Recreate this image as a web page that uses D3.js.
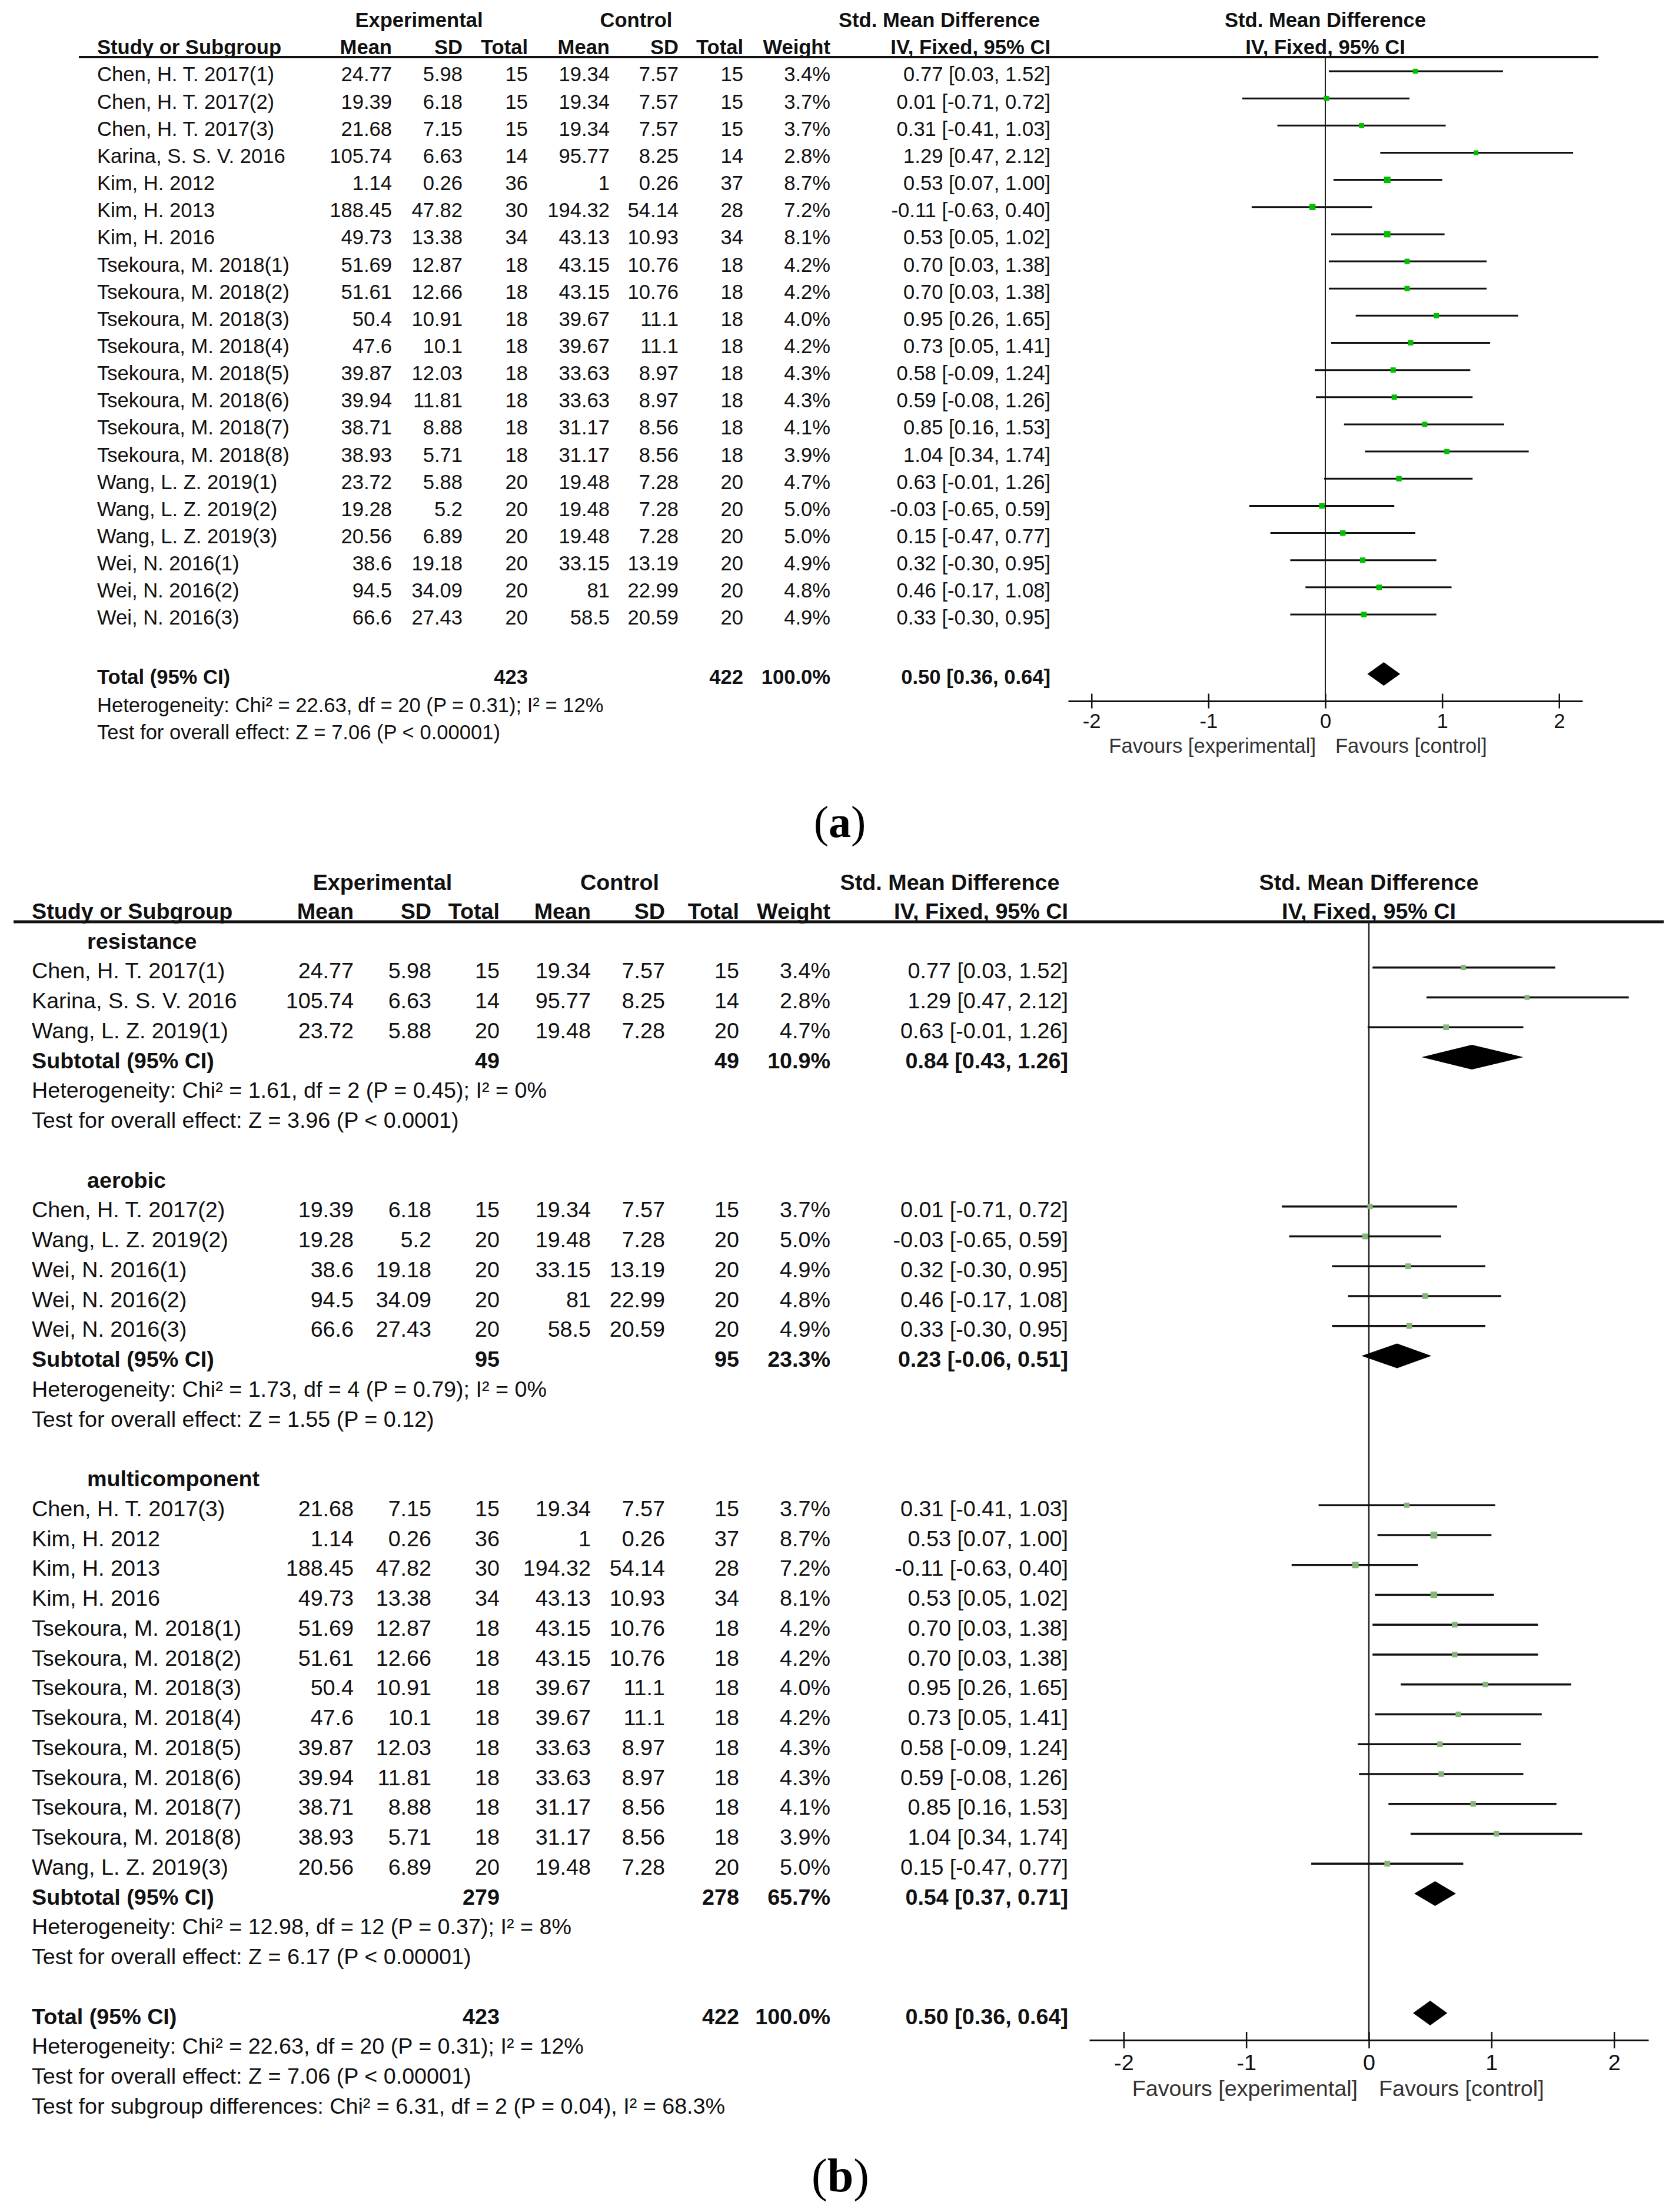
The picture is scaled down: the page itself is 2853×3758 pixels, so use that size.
<!DOCTYPE html>
<html><head><meta charset="utf-8">
<script src="https://cdn.jsdelivr.net/npm/d3@7"></script>
<style>
body{margin:0;background:#fff}
svg text{font-family:"Liberation Sans",Arial,sans-serif;fill:#111}
</style>
</head><body>
<svg id="c" width="2853" height="3758"></svg>
<script>
// ---------- DATA ----------
const studyNames = ["Chen, H. T. 2017(1)","Chen, H. T. 2017(2)","Chen, H. T. 2017(3)","Karina, S. S. V. 2016","Kim, H. 2012","Kim, H. 2013","Kim, H. 2016","Tsekoura, M. 2018(1)","Tsekoura, M. 2018(2)","Tsekoura, M. 2018(3)","Tsekoura, M. 2018(4)","Tsekoura, M. 2018(5)","Tsekoura, M. 2018(6)","Tsekoura, M. 2018(7)","Tsekoura, M. 2018(8)","Wang, L. Z. 2019(1)","Wang, L. Z. 2019(2)","Wang, L. Z. 2019(3)","Wei, N. 2016(1)","Wei, N. 2016(2)","Wei, N. 2016(3)"];
const expMean  = [24.77,19.39,21.68,105.74,1.14,188.45,49.73,51.69,51.61,50.4,47.6,39.87,39.94,38.71,38.93,23.72,19.28,20.56,38.6,94.5,66.6];
const expSD    = [5.98,6.18,7.15,6.63,0.26,47.82,13.38,12.87,12.66,10.91,10.1,12.03,11.81,8.88,5.71,5.88,5.2,6.89,19.18,34.09,27.43];
const expN     = [15,15,15,14,36,30,34,18,18,18,18,18,18,18,18,20,20,20,20,20,20];
const ctrlMean = [19.34,19.34,19.34,95.77,1,194.32,43.13,43.15,43.15,39.67,39.67,33.63,33.63,31.17,31.17,19.48,19.48,19.48,33.15,81,58.5];
const ctrlSD   = [7.57,7.57,7.57,8.25,0.26,54.14,10.93,10.76,10.76,11.1,11.1,8.97,8.97,8.56,8.56,7.28,7.28,7.28,13.19,22.99,20.59];
const ctrlN    = [15,15,15,14,37,28,34,18,18,18,18,18,18,18,18,20,20,20,20,20,20];
const weights  = [3.4,3.7,3.7,2.8,8.7,7.2,8.1,4.2,4.2,4.0,4.2,4.3,4.3,4.1,3.9,4.7,5.0,5.0,4.9,4.8,4.9];
const smd      = [0.77,0.01,0.31,1.29,0.53,-0.11,0.53,0.70,0.70,0.95,0.73,0.58,0.59,0.85,1.04,0.63,-0.03,0.15,0.32,0.46,0.33];
const ciLow    = [0.03,-0.71,-0.41,0.47,0.07,-0.63,0.05,0.03,0.03,0.26,0.05,-0.09,-0.08,0.16,0.34,-0.01,-0.65,-0.47,-0.30,-0.17,-0.30];
const ciHigh   = [1.52,0.72,1.03,2.12,1.00,0.40,1.02,1.38,1.38,1.65,1.41,1.24,1.26,1.53,1.74,1.26,0.59,0.77,0.95,1.08,0.95];

const groupNames   = ["resistance","aerobic","multicomponent"];
const groupStudies = [[0,3,15],[1,16,18,19,20],[2,4,5,6,7,8,9,10,11,12,13,14,17]];
const subExpN   = [49,95,279];
const subCtrlN  = [49,95,278];
const subWeight = [10.9,23.3,65.7];
const subSmd    = [0.84,0.23,0.54];
const subLow    = [0.43,-0.06,0.37];
const subHigh   = [1.26,0.51,0.71];
const subHet    = ["Heterogeneity: Chi\u00b2 = 1.61, df = 2 (P = 0.45); I\u00b2 = 0%","Heterogeneity: Chi\u00b2 = 1.73, df = 4 (P = 0.79); I\u00b2 = 0%","Heterogeneity: Chi\u00b2 = 12.98, df = 12 (P = 0.37); I\u00b2 = 8%"];
const subTest   = ["Test for overall effect: Z = 3.96 (P < 0.0001)","Test for overall effect: Z = 1.55 (P = 0.12)","Test for overall effect: Z = 6.17 (P < 0.00001)"];

const totalExpN = 423, totalCtrlN = 422, totalWeight = 100.0;
const totalSmd = 0.50, totalLow = 0.36, totalHigh = 0.64;
const totalHet  = "Heterogeneity: Chi\u00b2 = 22.63, df = 20 (P = 0.31); I\u00b2 = 12%";
const totalTest = "Test for overall effect: Z = 7.06 (P < 0.00001)";
const subgroupDiff = "Test for subgroup differences: Chi\u00b2 = 6.31, df = 2 (P = 0.04), I\u00b2 = 68.3%";

const tickValues = [-2,-1,0,1,2];
const colHeads = ["Mean","SD","Total","Mean","SD","Total","Weight","IV, Fixed, 95% CI"];

// ---------- LAYOUT ----------
const A = {fs:34.6, nameX:165, cols:[666,786,897,1036,1153,1263,1411,1785],
  expHeadX:712, ctrlHeadX:1081, smdHeadX:1596, head1Y:34, head2Y:80,
  headLine:[134,2716,97], lineW:4, domain:[-2.2,2.2], range:[1815,2689],
  rowY:i=>121+46.15*i, textOff:5, axisY:1191, tick:12.5, tickLabelY:1225, favY:1267,
  favGapL:16, favGapR:17, sqBase:4, sq:2.4, sqColor:"#00c000", ciW:3, diaH:20, zeroW:2};
const B = {fs:37.7, nameX:54, groupX:148, cols:[601,733,849,1004,1130,1256,1411,1815],
  expHeadX:650, ctrlHeadX:1053, smdHeadX:1614, head1Y:1498, head2Y:1547,
  headLine:[23,2827,1566], lineW:5, domain:[-2.28,2.28], range:[1851,2801],
  rowY:k=>1593+50.75*k, textOff:5, axisY:3466, tick:14, tickLabelY:3503, favY:3547,
  favGapL:19, favGapR:17, sqBase:4, sq:2.6, sqColor:"#86b57a", ciW:3.5, diaH:21, zeroW:2.5};

const svg = d3.select("#c");
const fmtCI = (m,lo,hi) => `${m.toFixed(2)} [${lo.toFixed(2)}, ${hi.toFixed(2)}]`;

function drawPanel(P, rows){
  const g = svg.append("g");
  const x = d3.scaleLinear().domain(P.domain).range(P.range);
  const T = (tx, ty, s, o={}) => g.append("text").attr("x",tx).attr("y",ty).attr("dy","0.36em")
      .attr("font-size",P.fs).attr("font-weight",o.bold?"bold":null)
      .attr("text-anchor",o.anchor||"start").text(s);
  // headers
  T(P.expHeadX,P.head1Y,"Experimental",{bold:1,anchor:"middle"});
  T(P.ctrlHeadX,P.head1Y,"Control",{bold:1,anchor:"middle"});
  T(P.smdHeadX,P.head1Y,"Std. Mean Difference",{bold:1,anchor:"middle"});
  T(x(0),P.head1Y,"Std. Mean Difference",{bold:1,anchor:"middle"});
  T(P.nameX,P.head2Y,"Study or Subgroup",{bold:1});
  colHeads.forEach((h,k)=>T(P.cols[k],P.head2Y,h,{bold:1,anchor:"end"}));
  T(x(0),P.head2Y,"IV, Fixed, 95% CI",{bold:1,anchor:"middle"});
  g.append("line").attr("x1",P.headLine[0]).attr("x2",P.headLine[1])
   .attr("y1",P.headLine[2]).attr("y2",P.headLine[2]).attr("stroke","#111").attr("stroke-width",P.lineW);
  // zero line
  g.append("line").attr("x1",x(0)).attr("x2",x(0)).attr("y1",P.headLine[2]).attr("y2",P.axisY)
   .attr("stroke","#222").attr("stroke-width",P.zeroW);
  // axis
  const axis = d3.axisBottom(x).tickValues(tickValues).tickSize(P.tick).tickSizeOuter(0).tickFormat(d=>String(d));
  const ag = g.append("g").attr("transform",`translate(0,${P.axisY})`).call(axis)
    .attr("font-family",null).attr("font-size",P.fs).attr("color","#111");
  ag.select(".domain").attr("stroke-width",3);
  ag.selectAll(".tick line").attr("y1",-P.tick).attr("y2",P.tick).attr("stroke-width",2.5);
  ag.selectAll(".tick text").attr("y",P.tickLabelY-P.axisY).attr("dy","0.36em").style("fill","#111");
  T(x(0)-P.favGapL,P.favY,"Favours [experimental]",{anchor:"end"}).style("fill","#333");
  T(x(0)+P.favGapR,P.favY,"Favours [control]").style("fill","#333");

  const diamond = (y,m,lo,hi) => g.append("path")
     .attr("d",`M${x(lo)},${y}L${x(m)},${y-P.diaH}L${x(hi)},${y}L${x(m)},${y+P.diaH}Z`).attr("fill","#000");

  rows.forEach(r=>{
    const ly = r.y, ty = r.y + P.textOff;
    if(r.kind==="study"){
      const i = r.i;
      T(P.nameX,ty,studyNames[i]);
      const vals=[String(expMean[i]),String(expSD[i]),String(expN[i]),String(ctrlMean[i]),String(ctrlSD[i]),String(ctrlN[i]),
                  weights[i].toFixed(1)+"%",fmtCI(smd[i],ciLow[i],ciHigh[i])];
      vals.forEach((v,k)=>T(P.cols[k],ty,v,{anchor:"end"}));
      g.append("line").attr("x1",x(ciLow[i])).attr("x2",x(ciHigh[i])).attr("y1",ly).attr("y2",ly)
       .attr("stroke","#111").attr("stroke-width",P.ciW);
      const s = P.sqBase + P.sq*Math.sqrt(weights[i]);
      g.append("rect").attr("x",x(smd[i])-s/2).attr("y",ly-s/2).attr("width",s).attr("height",s).attr("fill",P.sqColor);
    } else if(r.kind==="group"){
      T(P.groupX,ty,r.text,{bold:1});
    } else if(r.kind==="sum"){
      T(P.nameX,ty,r.label,{bold:1});
      T(P.cols[2],ty,String(r.en),{bold:1,anchor:"end"});
      T(P.cols[5],ty,String(r.cn),{bold:1,anchor:"end"});
      T(P.cols[6],ty,r.w.toFixed(1)+"%",{bold:1,anchor:"end"});
      T(P.cols[7],ty,fmtCI(r.m,r.lo,r.hi),{bold:1,anchor:"end"});
      diamond(ly,r.m,r.lo,r.hi);
    } else if(r.kind==="text"){
      T(P.nameX,ty,r.text);
    }
  });
}

// Panel (a)
const rowsA = studyNames.map((n,i)=>({kind:"study",i,y:A.rowY(i)}));
rowsA.push({kind:"sum",label:"Total (95% CI)",en:totalExpN,cn:totalCtrlN,w:totalWeight,m:totalSmd,lo:totalLow,hi:totalHigh,y:1145});
rowsA.push({kind:"text",text:totalHet,y:1193});
rowsA.push({kind:"text",text:totalTest,y:1239});
drawPanel(A,rowsA);

// Panel (b)
const rowsB = [];
let k = 0;
groupNames.forEach((gname,gi)=>{
  rowsB.push({kind:"group",text:gname,y:B.rowY(k++)});
  groupStudies[gi].forEach(i=>rowsB.push({kind:"study",i,y:B.rowY(k++)}));
  rowsB.push({kind:"sum",label:"Subtotal (95% CI)",en:subExpN[gi],cn:subCtrlN[gi],w:subWeight[gi],m:subSmd[gi],lo:subLow[gi],hi:subHigh[gi],y:B.rowY(k++)});
  rowsB.push({kind:"text",text:subHet[gi],y:B.rowY(k++)});
  rowsB.push({kind:"text",text:subTest[gi],y:B.rowY(k++)});
  k++;
});
rowsB.push({kind:"sum",label:"Total (95% CI)",en:totalExpN,cn:totalCtrlN,w:totalWeight,m:totalSmd,lo:totalLow,hi:totalHigh,y:B.rowY(k++)});
rowsB.push({kind:"text",text:totalHet,y:B.rowY(k++)});
rowsB.push({kind:"text",text:totalTest,y:B.rowY(k++)});
rowsB.push({kind:"text",text:subgroupDiff,y:B.rowY(k++)});
drawPanel(B,rowsB);

// panel labels
[["a",1427,1422,76],["b",1428,3723,80]].forEach(([l,lx,lyy,f])=>{
  const t = svg.append("text").attr("x",lx).attr("y",lyy).attr("text-anchor","middle")
    .attr("font-size",f).style("font-family","'Liberation Serif','Times New Roman',serif").style("fill","#000");
  t.append("tspan").text("(");
  t.append("tspan").attr("font-weight","bold").text(l);
  t.append("tspan").text(")");
});
</script>
</body></html>
